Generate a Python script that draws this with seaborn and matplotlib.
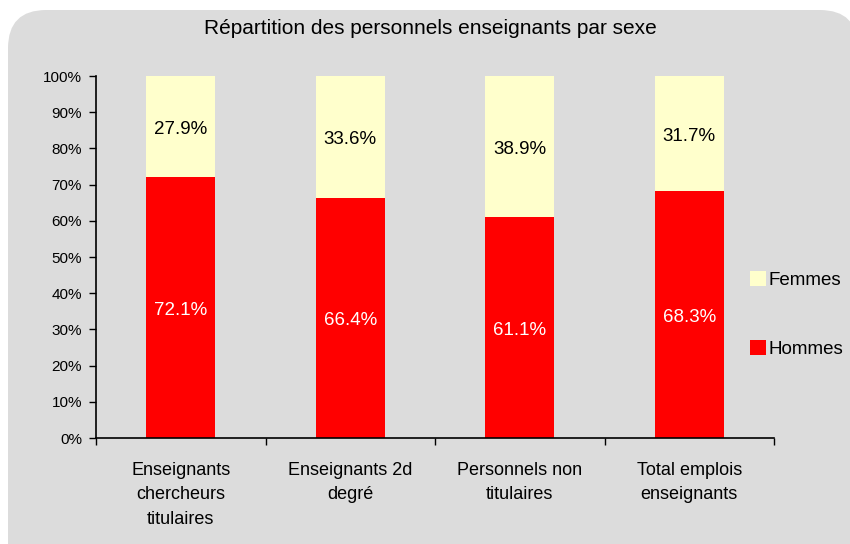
import matplotlib
matplotlib.use("Agg")
import matplotlib.pyplot as plt
import seaborn as sns
import pandas as pd
from matplotlib.patches import FancyBboxPatch, Patch

categories = ["Enseignants\nchercheurs\ntitulaires", "Enseignants 2d\ndegré",
              "Personnels non\ntitulaires", "Total emplois\nenseignants"]
hommes = [72.1, 66.4, 61.1, 68.3]
femmes = [27.9, 33.6, 38.9, 31.7]
yticks = [0, 10, 20, 30, 40, 50, 60, 70, 80, 90, 100]
title = "Répartition des personnels enseignants par sexe"

RED = "#FF0000"
CREAM = "#FFFFCC"
GREY = "#DCDCDC"

sns.set_theme(style="white")
plt.rcParams['font.family'] = ['Liberation Sans', 'DejaVu Sans']
plt.rcParams['text.color'] = 'black'
plt.rcParams['xtick.color'] = 'black'
plt.rcParams['ytick.color'] = 'black'

fig = plt.figure(figsize=(8.5, 5.44), dpi=100)
fig.patch.set_facecolor("white")
bg = FancyBboxPatch((8 / 850, -0.2), 1.0, (1 - 10 / 544) + 0.2,
                    boxstyle="round,pad=0,rounding_size=0.045",
                    transform=fig.transFigure, facecolor=GREY, edgecolor="none",
                    zorder=-10, mutation_aspect=850 / 544)
fig.patches.append(bg)

ax = fig.add_axes([96 / 850, 1 - 438 / 544, (774 - 96) / 850, (438 - 76) / 544])
ax.set_facecolor("none")
ax.set_zorder(1)

df = pd.DataFrame({"cat": categories, "Hommes": hommes, "Femmes": femmes})
df["Total"] = df["Hommes"] + df["Femmes"]

sns.barplot(data=df, x="cat", y="Total", color=CREAM, width=0.41, ax=ax,
            saturation=1, edgecolor="none")
sns.barplot(data=df, x="cat", y="Hommes", color=RED, width=0.41, ax=ax,
            saturation=1, edgecolor="none")

for i, (h, f) in enumerate(zip(hommes, femmes)):
    ax.text(i, h / 2 - 0.8, f"{h:.1f}%", ha="center", va="center", color="white", fontsize=13.5)
    ax.text(i, h + f / 2 - 0.8, f"{f:.1f}%", ha="center", va="center", color="black", fontsize=13.5)

ax.set_xlim(-0.5, 3.5)
ax.set_ylim(0, 100)
ax.set_yticks(yticks)
ax.set_yticklabels([f"{t}%" for t in yticks], fontsize=11)
ax.set_xlabel("")
ax.set_ylabel("")
ax.tick_params(axis="y", direction="out", length=5, width=1, color="black", left=True, pad=5)
ax.tick_params(axis="x", which="major", length=0, labelsize=13, pad=17)
ax.set_xticks([-0.5, 0.5, 1.5, 2.5, 3.5], minor=True)
ax.tick_params(axis="x", which="minor", direction="out", length=5, width=1, color="black", bottom=True)
for lbl in ax.get_xticklabels():
    lbl.set_linespacing(1.6)

for s in ["top", "right"]:
    ax.spines[s].set_visible(False)
for s in ["left", "bottom"]:
    ax.spines[s].set_color("black")
    ax.spines[s].set_linewidth(1.2)

fig.text(430 / 850, 1 - 28 / 544, title, ha="center", va="center", fontsize=15)

handles = [Patch(facecolor=CREAM, edgecolor="none", label="Femmes"),
           Patch(facecolor=RED, edgecolor="none", label="Hommes")]
fig.legend(handles=handles, loc="upper left", bbox_to_anchor=(750 / 850, 1 - 271 / 544),
           frameon=False, fontsize=13.5, labelspacing=2.7, handlelength=0.85,
           handleheight=0.85, handletextpad=0.15, borderpad=0, borderaxespad=0)

fig.savefig("out.png", dpi=100, facecolor="white")
